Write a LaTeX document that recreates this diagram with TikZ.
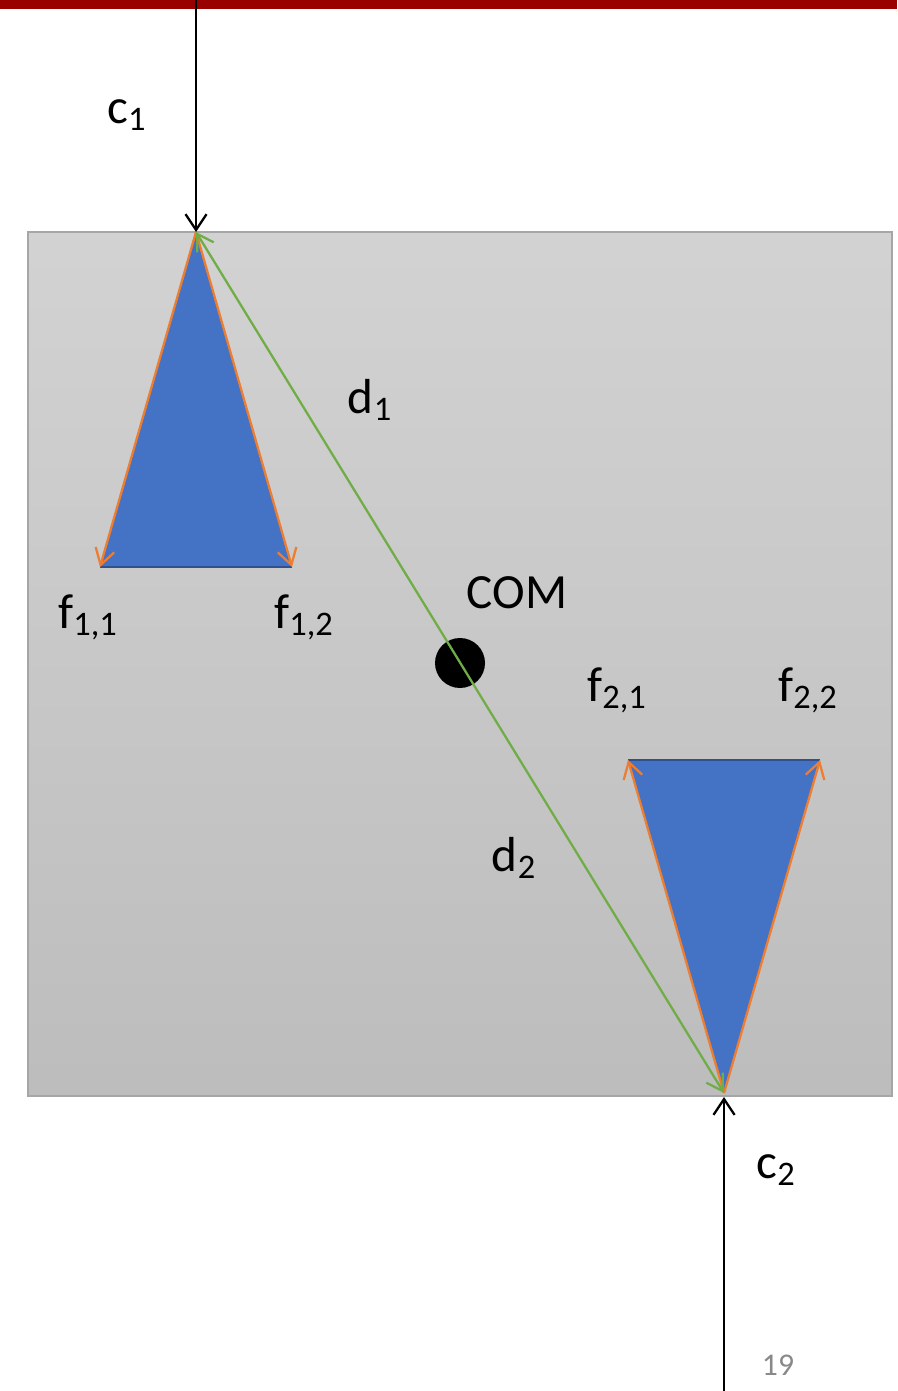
\documentclass[tikz,border=0pt]{standalone}
\usepackage{fontspec}
\setmainfont{Carlito}
\usetikzlibrary{arrows.meta}

\definecolor{barred}{RGB}{153,0,0}
\definecolor{triblue}{RGB}{68,114,196}
\definecolor{basblue}{RGB}{47,82,143}
\definecolor{forange}{RGB}{237,125,49}
\definecolor{dgreen}{RGB}{112,173,71}
\definecolor{numgray}{RGB}{137,137,137}

\begin{document}
\begin{tikzpicture}[
			x=0.02cm, y=-0.02cm,
			lbl/.style={font=\fontsize{28}{34}\selectfont, inner sep=0pt},
			tri/.style={fill=triblue},
			cline/.style={black, line width=1.3pt, -{Straight Barb[length=9pt, width=12pt, line width=1.3pt]}},
			fline/.style={forange, line width=1.3pt, -{Straight Barb[length=9pt, width=11pt, line width=1.3pt]}},
			dline/.style={dgreen, line width=1.3pt, {Straight Barb[length=9pt, width=11pt, line width=1.3pt]}-{Straight Barb[length=9pt, width=11pt, line width=1.3pt]}}
			]
			\useasboundingbox (0,0) rectangle (897,1391);
			
			% title bar (cut off)
			\fill[barred] (0,0) rectangle (897,9);
			
			% body
			\shade[top color=gray!35, bottom color=gray!52, draw=gray!70, line width=0.8pt] (28,232) rectangle (892,1096);
			
			% contact and finger points
			\coordinate (top) at (196,232);
			\coordinate (f11) at (100,567);
			\coordinate (f12) at (292,567);
			\coordinate (bot) at (724,1093);
			\coordinate (f21) at (628,760);
			\coordinate (f22) at (820,760);
			\coordinate (c1start) at (196,0);
			\coordinate (c2start) at (724,1391);
			\coordinate (c2end) at (724,1097);
			
			% Triangles
			\fill[tri] (top) -- (f11) -- (f12) -- cycle;
			\draw[basblue, line width=1.3pt] (f11) -- (f12);
			\fill[tri] (bot) -- (f21) -- (f22) -- cycle;
			\draw[basblue, line width=1.3pt] (f21) -- (f22);
			
			% finger forces
			\draw[fline] (top) -- (f11);
			\draw[fline] (top) -- (f12);
			\draw[fline] (bot) -- (f21);
			\draw[fline] (bot) -- (f22);
			
			% center of mass
			\node[circle, fill=black, minimum size=1cm, inner sep=0pt] (com) at (460,663) {};
			
			% lever arms
			\draw[dline] (bot) -- (top);
			
			% contact forces
			\draw[cline] (c1start) -- (top);
			\draw[cline] (c2start) -- (c2end);
			
			% Labels
			\node[lbl] (c1) at (127,115) {c\textsubscript{1}};
			\node[lbl] (c2) at (776,1170) {c\textsubscript{2}};
			\node[lbl] (d1) at (370,400) {d\textsubscript{1}};
			\node[lbl] (d2) at (514,858) {d\textsubscript{2}};
			\node[lbl] (comlbl) at (517,593) {COM};
			\node[lbl] (l11) at (88,617) {f\textsubscript{1,1}};
			\node[lbl] (l12) at (304,617) {f\textsubscript{1,2}};
			\node[lbl] (l21) at (617,690) {f\textsubscript{2,1}};
			\node[lbl] (l22) at (808,690) {f\textsubscript{2,2}};
			
			% slide number
			\node[font=\fontsize{18}{22}\selectfont, text=numgray, inner sep=0pt] (pnum) at (778,1365) {19};
			
		\end{tikzpicture}
\end{document}
